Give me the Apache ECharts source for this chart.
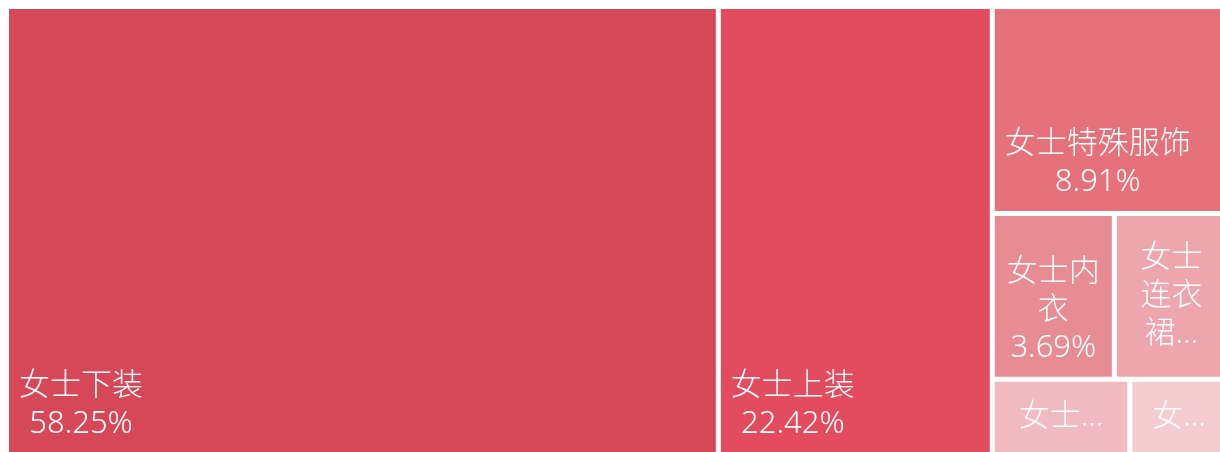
<!DOCTYPE html>
<html>
<head>
<meta charset="utf-8">
<script src="https://cdn.jsdelivr.net/npm/echarts@6/dist/echarts.min.js"></script>
<style>
  html, body { margin: 0; padding: 0; background: #fff; overflow: hidden; }
  #chart { width: 1220px; height: 452px; }
</style>
</head>
<body>
<div id="chart"></div>
<script>
// Category shares (percent of total sales)
const categories = ['女士下装', '女士上装', '女士特殊服饰', '女士内衣', '女士连衣裙', '女士家居服', '女士套装'];
const shares = [58.25, 22.42, 8.91, 3.69, 3.45, 1.91, 1.37];
const palette = ['#D64858', '#E24C5E', '#E5717A', '#E88C94', '#EEA6AD', '#F1BAC0', '#F4CDD0'];

const FONT_SIZE = 31;
const FONT_WEIGHT = 300;
const LINE_H = 38;
const PAD = 10;
const FONT_FAMILY = '"Noto Sans", "Noto Sans CJK SC", sans-serif';

const measureCtx = document.createElement('canvas').getContext('2d');
measureCtx.font = FONT_WEIGHT + ' ' + FONT_SIZE + 'px ' + FONT_FAMILY;
const textWidth = s => measureCtx.measureText(s).width;

// Greedy wrap: each CJK character is breakable, latin runs stay whole.
function wrapLine(str, maxW) {
  const tokens = str.match(/[\u2E80-\u9FFF\uF900-\uFAFF\uFF00-\uFFEF]|[^\u2E80-\u9FFF\uF900-\uFAFF\uFF00-\uFFEF]+/g) || [''];
  const out = [];
  let cur = '';
  tokens.forEach(t => {
    if (cur && textWidth(cur + t) > maxW) { out.push(cur); cur = t; }
    else cur += t;
  });
  out.push(cur);
  return out;
}

// Fit a two-line label into a cell: wrap to the cell width, cut extra lines
// with an ellipsis and work out where the centred text block sits.
function fitLabel(text, w, h) {
  const availW = Math.max(w - 2 * PAD, 1);
  const availH = Math.max(h - 2 * PAD, 1);
  const natural = text.split('\n');
  const naturalW = Math.max.apply(null, natural.map(textWidth));
  let lines = [];
  natural.forEach(s => { lines = lines.concat(wrapLine(s, availW)); });
  const maxLines = Math.max(1, Math.floor(availH / LINE_H));
  const clipped = lines.length > maxLines;
  if (clipped) {
    lines = lines.slice(0, maxLines);
    let last = lines[maxLines - 1];
    while (last.length && textWidth(last + '…') > availW) last = last.slice(0, -1);
    lines[maxLines - 1] = last + '…';
  }
  const blockW = Math.min(naturalW, availW);
  return { text: lines.join('\n'), cx: PAD + blockW / 2, clipped: clipped };
}

const chart = echarts.init(document.getElementById('chart'), null, { renderer: 'canvas' });

function buildSeries(labels) {
  return {
    type: 'treemap',
    left: 9,
    top: 9,
    width: 1217,
    height: 444,
    squareRatio: 1,
    roam: false,
    nodeClick: false,
    breadcrumb: { show: false },
    itemStyle: { borderWidth: 0, gapWidth: 5, borderColor: '#fff' },
    label: {
      show: true,
      color: '#fff',
      fontSize: FONT_SIZE,
      fontWeight: FONT_WEIGHT,
      fontFamily: FONT_FAMILY,
      lineHeight: LINE_H,
      padding: PAD,
      overflow: 'truncate'
    },
    emphasis: { disabled: true },
    data: categories.map((name, i) => {
      const item = { name: name, value: shares[i], itemStyle: { color: palette[i] } };
      if (labels && labels[i]) item.label = labels[i];
      return item;
    })
  };
}

chart.setOption({ animation: false, series: [buildSeries(null)] });

// Second pass: place each label from the cell sizes the treemap layout produced.
const tree = chart.getModel().getSeriesByIndex(0).getData().tree;
const labels = [];
tree.root.children.forEach(node => {
  const idx = categories.indexOf(node.name);
  const lay = node.getLayout();
  const fit = fitLabel(node.name + '\n' + shares[idx].toFixed(2) + '%', lay.width, lay.height);
  labels[idx] = {
    formatter: fit.text,
    position: [fit.cx, fit.clipped ? lay.height / 2 : lay.height],
    align: 'center',
    verticalAlign: fit.clipped ? 'middle' : 'bottom'
  };
});

chart.setOption({ series: [buildSeries(labels)] });
</script>
</body>
</html>
